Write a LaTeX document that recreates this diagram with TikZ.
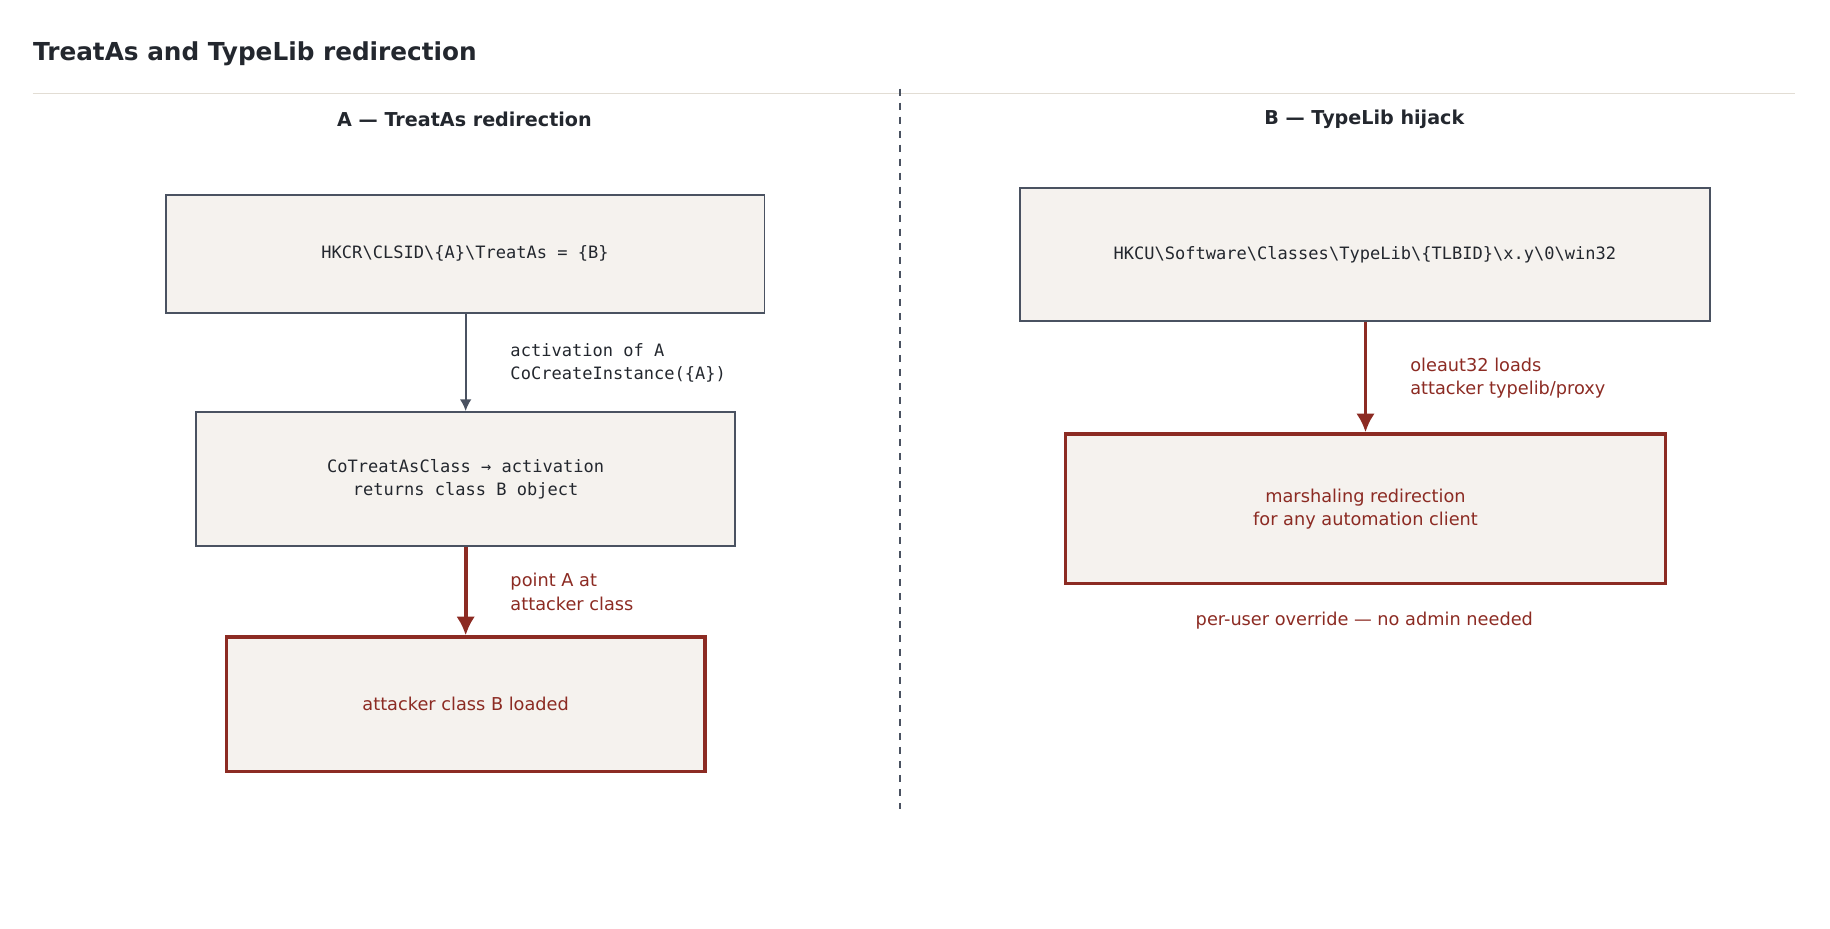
\documentclass[tikz,border=0pt]{standalone}
\usepackage{fontspec}
\setmainfont{DejaVu Sans}
\setmonofont{DejaVu Sans Mono}
\usetikzlibrary{positioning,arrows.meta}
\definecolor{ink}{HTML}{23272E}
\definecolor{edge}{HTML}{4A5261}
\definecolor{paper}{HTML}{F5F2EE}
\definecolor{alert}{HTML}{8C2B23}
\definecolor{rule}{HTML}{E2DDD4}

\begin{document}
\begin{tikzpicture}[x=0.5pt,y=-0.5pt,
  box/.style={draw=edge,fill=paper,line width=0.8pt,align=center,inner sep=0pt},
  evil/.style={draw=alert,fill=paper,line width=1.6pt,align=center,inner sep=0pt,text=alert,font=\fontsize{7.6}{10}\selectfont},
  code/.style={font=\ttfamily\fontsize{7.3}{10}\selectfont,text=ink},
  note/.style={align=left,anchor=west,inner sep=0pt},
  flow/.style={draw=edge,line width=0.8pt,-{Latex[length=5pt,width=5pt]}},
  hot/.style={draw=alert,line width=1.6pt,-{Latex[length=8pt,width=8pt]}}]
\useasboundingbox (0,0) rectangle (1568,796);
% title and separators
\node[anchor=west,inner sep=0pt,text=ink,font=\bfseries\fontsize{10.6}{12}\selectfont] (title) at (28,46) {TreatAs and TypeLib redirection};
\draw[rule,line width=0.6pt] (28,80) -- (1538,80);
\draw[edge,dashed,line width=0.6pt] (771,76) -- (771,693);
\node[text=ink,font=\bfseries\fontsize{8.2}{10}\selectfont] (headA) at (398,102) {A — TreatAs redirection};
\node[text=ink,font=\bfseries\fontsize{8.2}{10}\selectfont] (headB) at (1169,102) {B — TypeLib hijack};

% A: TreatAs
\node[box,code,minimum width=256.5pt,minimum height=50.5pt] (treat) at (398.5,217.5) {HKCR\textbackslash CLSID\textbackslash\{A\}\textbackslash TreatAs = \{B\}};
\node[box,code,minimum width=231pt,minimum height=57.5pt] (cotreat) at (399,410.5) {CoTreatAsClass → activation\\returns class B object};
\node[evil,minimum width=205pt,minimum height=57.5pt] (loaded) at (399,603.5) {attacker class B loaded};
\draw[flow] (treat.south -| cotreat.north) -- (cotreat.north);
\draw[hot] (cotreat) -- (loaded);
\node[note,code] (actlbl) at (437,311) {activation of A\\CoCreateInstance(\{A\})};
\node[note,text=alert,font=\fontsize{7.6}{10}\selectfont] (ptlbl) at (437,507) {point A at\\attacker class};

% B: TypeLib
\node[box,code,minimum width=295.5pt,minimum height=57pt] (typelib) at (1169.5,218) {HKCU\textbackslash Software\textbackslash Classes\textbackslash TypeLib\textbackslash\{TLBID\}\textbackslash x.y\textbackslash 0\textbackslash win32};
\node[evil,minimum width=257pt,minimum height=64pt] (marshal) at (1170,436) {marshaling redirection\\for any automation client};
\draw[hot] (typelib.south -| marshal.north) -- (marshal.north);
\node[note,text=alert,font=\fontsize{7.6}{10}\selectfont] (olelbl) at (1208,324) {oleaut32 loads\\attacker typelib/proxy};
\node[text=alert,font=\fontsize{7.6}{10}\selectfont] (peruser) at (1169,532) {per-user override — no admin needed};
\end{tikzpicture}
\end{document}
